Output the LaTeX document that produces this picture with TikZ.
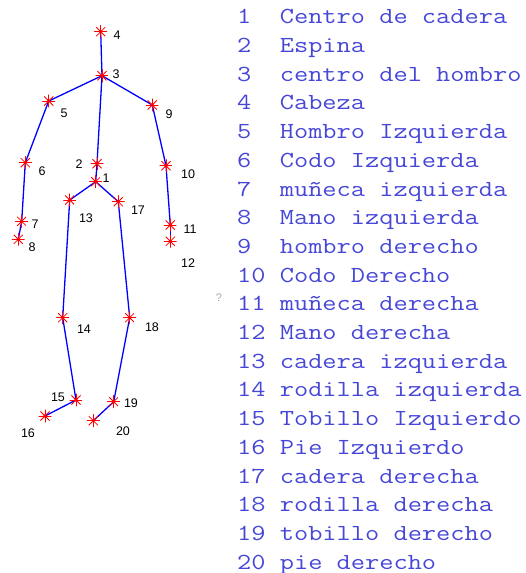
\documentclass[tikz,border=0pt]{standalone}
\usepackage{fontspec}
\newfontfamily\listfont{Latin Modern Mono}
\newfontfamily\labfont{Liberation Sans}
\usetikzlibrary{backgrounds}
\definecolor{listblue}{RGB}{70,70,215}
\tikzset{
  joint/.style={circle, minimum size=13pt, inner sep=0pt,
    path picture={
      \foreach \a in {0,45,...,315}
        {\draw[red, line width=0.8pt] (path picture bounding box.center) -- ++(\a:7pt);}
      \fill[red] (path picture bounding box.center) circle (1.9pt);}},
  bone/.style={blue, line width=1.3pt},
  jlabel/.style={font=\labfont\fontsize{12.5}{14}\selectfont, inner sep=0pt, text=black},
  listnum/.style={font=\listfont\fontsize{23}{26}\selectfont, text=listblue,
    anchor=base west, inner sep=0pt, xscale=1.2, transform shape},
  listtxt/.style={listnum}
}
\begin{document}
\begin{tikzpicture}[x=1pt, y=-1pt]
\useasboundingbox (0,0) rectangle (525,573);

% joints
\node[joint] (j1)  at (95.7,181.7) {};
\node[joint] (j2)  at (97,163.7) {};
\node[joint] (j3)  at (102,75.7) {};
\node[joint] (j4)  at (100.7,31.7) {};
\node[joint] (j5)  at (48.7,101) {};
\node[joint] (j6)  at (25.3,162.7) {};
\node[joint] (j7)  at (21.7,221.3) {};
\node[joint] (j8)  at (18.3,239.3) {};
\node[joint] (j9)  at (152.3,105) {};
\node[joint] (j10) at (166,165.7) {};
\node[joint] (j11) at (170.3,225) {};
\node[joint] (j12) at (170.3,241.3) {};
\node[joint] (j13) at (69.7,200) {};
\node[joint] (j14) at (62.7,317.7) {};
\node[joint] (j15) at (76,400) {};
\node[joint] (j16) at (45,416) {};
\node[joint] (j17) at (118.3,201.7) {};
\node[joint] (j18) at (129.7,317.7) {};
\node[joint] (j19) at (113.7,401.7) {};
\node[joint] (j20) at (93.3,420.7) {};

% bones
\begin{scope}[on background layer]
\foreach \a/\b in {4/3,3/5,3/9,3/2,2/1,1/13,1/17,5/6,6/7,7/8,9/10,10/11,11/12,
                   13/14,14/15,15/16,17/18,18/19,19/20}
  \draw[bone] (j\a.center) -- (j\b.center);
\end{scope}

% joint numbers
\node[jlabel] (n1)  at (106,178) {1};
\node[jlabel] (n2)  at (79,164) {2};
\node[jlabel] (n3)  at (116,74) {3};
\node[jlabel] (n4)  at (117,35) {4};
\node[jlabel] (n5)  at (64,113) {5};
\node[jlabel] (n6)  at (42,171) {6};
\node[jlabel] (n7)  at (35,224) {7};
\node[jlabel] (n8)  at (32,247) {8};
\node[jlabel] (n9)  at (169,114) {9};
\node[jlabel] (n10) at (188,174) {10};
\node[jlabel] (n11) at (190,229) {11};
\node[jlabel] (n12) at (188,263) {12};
\node[jlabel] (n13) at (86,218) {13};
\node[jlabel] (n14) at (84,329) {14};
\node[jlabel] (n15) at (58,397) {15};
\node[jlabel] (n16) at (28,433) {16};
\node[jlabel] (n17) at (138,210) {17};
\node[jlabel] (n18) at (152,327) {18};
\node[jlabel] (n19) at (131,403) {19};
\node[jlabel] (n20) at (123,431) {20};

\node[font=\labfont\fontsize{11}{12}\selectfont, text=black!35, inner sep=0pt] (q) at (219,298) {?};

% legend
\foreach \i/\t in {1/Centro de cadera, 2/Espina, 3/centro del hombro, 4/Cabeza,
  5/Hombro Izquierda, 6/Codo Izquierda, 7/muñeca izquierda, 8/Mano izquierda,
  9/hombro derecho, 10/Codo Derecho, 11/muñeca derecha, 12/Mano derecha,
  13/cadera izquierda, 14/rodilla izquierda, 15/Tobillo Izquierdo, 16/Pie Izquierdo,
  17/cadera derecha, 18/rodilla derecha, 19/tobillo derecho, 20/pie derecho}
{
  \pgfmathsetmacro\yy{17+(\i-1)*28.7+6.8}
  \node[listnum] (num\i) at (237,\yy) {\i};
  \node[listtxt] (txt\i) at (279.6,\yy) {\t};
}
\end{tikzpicture}
\end{document}
